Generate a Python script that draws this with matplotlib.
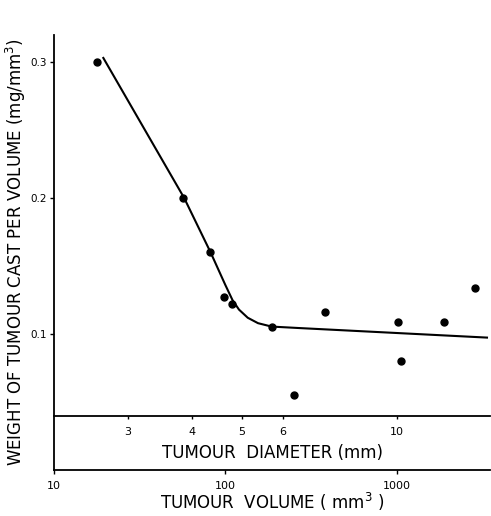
import numpy as np
import matplotlib
matplotlib.use("Agg")
import matplotlib.pyplot as plt
from matplotlib.ticker import FixedLocator, NullLocator, FuncFormatter

# measured points: tumour volume (mm^3) vs cast weight per volume (mg/mm^3)
volume = [17.8, 56.8, 81.7, 98.6, 110, 186, 250, 379, 1014, 1055, 1885, 2860]
weight = [0.300, 0.200, 0.160, 0.1275, 0.122, 0.1055, 0.055, 0.1165, 0.109, 0.080, 0.1085, 0.134]

# hand-drawn fit curve
fit_volume = [19.4, 57.5, 82, 100, 110, 120, 135, 155, 186, 271, 3360]
fit_weight = [0.303, 0.200, 0.160, 0.136, 0.125, 0.118, 0.112, 0.108, 0.1055, 0.1044, 0.0974]

vol_ticks = [10, 100, 1000]
diam_ticks = [3, 4, 5, 6, 10]
y_ticks = [0.1, 0.2, 0.3]
diam_axis_y = 0.04

fig = plt.figure(figsize=(4.91, 5.16), dpi=100)
ax = fig.add_axes([0.110, 0.089, 0.888, 0.843])

ax.plot(fit_volume, fit_weight, color='black', linewidth=1.5)
ax.plot(volume, weight, 'o', color='black', markersize=5)

ax.set_xscale('log')
ax.set_xlim(10, 3500)
ax.set_ylim(0, 0.3198)

for s in ['top', 'right']:
    ax.spines[s].set_visible(False)
for s in ['left', 'bottom']:
    ax.spines[s].set_linewidth(1.3)

ax.xaxis.set_major_locator(FixedLocator(vol_ticks))
ax.xaxis.set_minor_locator(NullLocator())
ax.xaxis.set_major_formatter(FuncFormatter(lambda v, p: f"{v:g}"))
ax.set_yticks(y_ticks)
ax.set_yticklabels([f"{v:.1f}" for v in y_ticks])
ax.tick_params(axis='y', direction='out', length=3, width=1, labelsize=7.5, pad=2)
ax.tick_params(axis='x', direction='out', length=3, width=1, labelsize=8, pad=5)

# diameter scale drawn inside the plot, V = d^3
ymax = ax.get_ylim()[1]
sec = ax.secondary_xaxis(diam_axis_y / ymax,
                         functions=(lambda v: np.cbrt(v), lambda d: np.power(d, 3.0)))
sec.xaxis.set_major_locator(FixedLocator(diam_ticks))
sec.xaxis.set_minor_locator(NullLocator())
sec.xaxis.set_major_formatter(FuncFormatter(lambda v, p: f"{v:g}"))
sec.tick_params(direction='out', length=2, width=1, labelsize=8, pad=6)
sec.spines['bottom'].set_linewidth(1.3)
sec.set_xlabel('TUMOUR  DIAMETER (mm)', fontsize=12, labelpad=5)

ax.set_xlabel('TUMOUR  VOLUME ( mm$^3$ )', fontsize=12, labelpad=0)
ax.set_ylabel('WEIGHT OF TUMOUR CAST PER VOLUME (mg/mm$^3$)', fontsize=12, labelpad=2)

fig.savefig('out.png', dpi=100)
